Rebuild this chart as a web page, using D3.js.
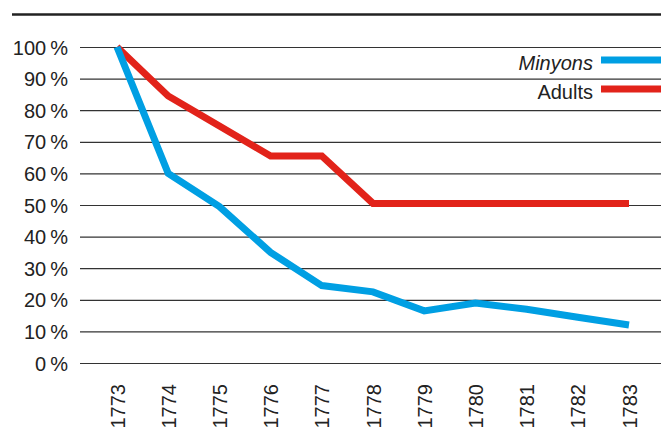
<!DOCTYPE html>
<html>
<head>
<meta charset="utf-8">
<script src="https://cdn.jsdelivr.net/npm/d3@7"></script>
<style>
  body { margin: 0; background: #fff; }
  svg { display: block; font-family: "Liberation Sans", Arial, sans-serif; }
</style>
</head>
<body>
<svg id="chart" width="661" height="435"></svg>
<script>
// data
var years = [1773, 1774, 1775, 1776, 1777, 1778, 1779, 1780, 1781, 1782, 1783];
var minyons = [100, 60, 49.5, 35, 24.5, 22.5, 16.5, 19, 17, 14.5, 12];
var adults = [100, 84.5, 75, 65.5, 65.5, 50.5, 50.5, 50.5, 50.5, 50.5, 50.5];
var yTicks = [0, 10, 20, 30, 40, 50, 60, 70, 80, 90, 100];
var seriesNames = ["Minyons", "Adults"];
var seriesColors = ["#009fe3", "#e2231a"];

var svg = d3.select("#chart");

var x = d3.scalePoint()
    .domain(years)
    .range([117, 629]);

var y = d3.scaleLinear()
    .domain([0, 100])
    .range([363, 47]);

// top rule
svg.append("line")
    .attr("x1", 12).attr("x2", 661)
    .attr("y1", 14.5).attr("y2", 14.5)
    .attr("stroke", "#222")
    .attr("stroke-width", 2.5);

// grid + y labels
var yAxis = d3.axisLeft(y)
    .tickValues(yTicks)
    .tickSize(0)
    .tickPadding(12)
    .tickFormat(function(d) { return d + "\u2009%"; });

var gy = svg.append("g")
    .attr("transform", "translate(80,0)")
    .call(yAxis);
gy.select(".domain").remove();
gy.selectAll(".tick text")
    .attr("fill", "#222")
    .attr("font-size", 20)
    .attr("dy", "0.35em");
gy.selectAll(".tick").append("line")
    .attr("x1", 0).attr("x2", 581)
    .attr("stroke", "#333")
    .attr("stroke-width", 1.2);

// x labels
var xAxis = d3.axisBottom(x).tickSize(0).tickPadding(0);
var gx = svg.append("g")
    .attr("transform", "translate(0,363)")
    .call(xAxis);
gx.select(".domain").remove();
gx.selectAll(".tick text")
    .attr("fill", "#222")
    .attr("font-size", 20)
    .attr("text-anchor", "end")
    .attr("transform", "rotate(-90)")
    .attr("x", -21)
    .attr("y", 0)
    .attr("dy", "0.35em");

// lines
var line = d3.line()
    .x(function(d, i) { return x(years[i]); })
    .y(function(d) { return y(d); })
    .curve(d3.curveLinear);

[adults, minyons].forEach(function(s, k) {
    svg.append("path")
        .datum(s)
        .attr("d", line)
        .attr("fill", "none")
        .attr("stroke", k == 0 ? seriesColors[1] : seriesColors[0])
        .attr("stroke-width", 7)
        .attr("stroke-linejoin", "miter")
        .attr("stroke-linecap", "butt");
});

// legend
var legend = svg.append("g");
seriesNames.forEach(function(name, i) {
    var ly = 60 + i * 29;
    legend.append("line")
        .attr("x1", 601).attr("x2", 661)
        .attr("y1", ly).attr("y2", ly)
        .attr("stroke", seriesColors[i])
        .attr("stroke-width", 7);
    legend.append("text")
        .attr("x", 593)
        .attr("y", ly + 3)
        .attr("dy", "0.35em")
        .attr("text-anchor", "end")
        .attr("font-size", 20)
        .attr("font-style", i == 0 ? "italic" : "normal")
        .attr("fill", "#222")
        .text(name);
});
</script>
</body>
</html>
